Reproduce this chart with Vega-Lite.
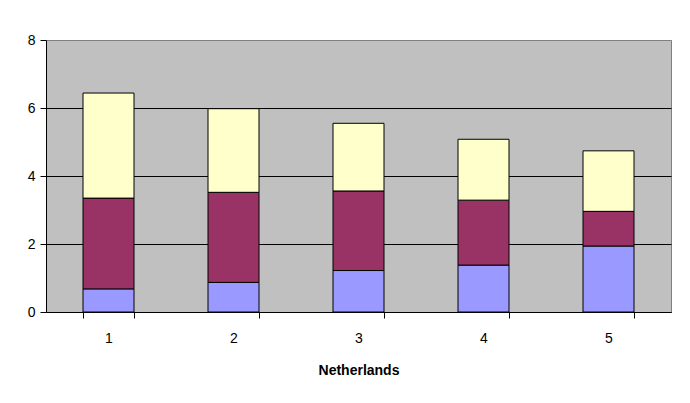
{
  "$schema": "https://vega.github.io/schema/vega-lite/v6.json",
  "width": 625,
  "height": 272,
  "autosize": {"type": "none"},
  "padding": {"left": 46, "top": 40, "right": 19, "bottom": 91},
  "background": "white",
  "config": {
    "font": "Liberation Sans",
    "view": {"fill": "#C0C0C0", "stroke": "#808080", "strokeWidth": 1},
    "axis": {"labelFont": "Liberation Sans", "titleFont": "Liberation Sans", "labelColor": "black", "titleColor": "black", "domainColor": "black", "tickColor": "black"}
  },
  "data": {
    "values": [
      {"cat": "1", "series": "A", "ord": 1, "value": 0.68},
      {"cat": "1", "series": "B", "ord": 2, "value": 2.67},
      {"cat": "1", "series": "C", "ord": 3, "value": 3.09},
      {"cat": "2", "series": "A", "ord": 1, "value": 0.87},
      {"cat": "2", "series": "B", "ord": 2, "value": 2.65},
      {"cat": "2", "series": "C", "ord": 3, "value": 2.46},
      {"cat": "3", "series": "A", "ord": 1, "value": 1.22},
      {"cat": "3", "series": "B", "ord": 2, "value": 2.34},
      {"cat": "3", "series": "C", "ord": 3, "value": 1.99},
      {"cat": "4", "series": "A", "ord": 1, "value": 1.38},
      {"cat": "4", "series": "B", "ord": 2, "value": 1.91},
      {"cat": "4", "series": "C", "ord": 3, "value": 1.79},
      {"cat": "5", "series": "A", "ord": 1, "value": 1.94},
      {"cat": "5", "series": "B", "ord": 2, "value": 1.02},
      {"cat": "5", "series": "C", "ord": 3, "value": 1.78}
    ]
  },
  "mark": {"type": "bar", "stroke": "black", "strokeWidth": 1},
  "encoding": {
    "x": {
      "field": "cat",
      "type": "nominal",
      "scale": {"paddingInner": 0.592, "paddingOuter": 0.296},
      "axis": {
        "title": "Netherlands",
        "titleFontWeight": "bold",
        "titleFontSize": 14,
        "titlePadding": 18,
        "labelAngle": 0,
        "labelFontSize": 14,
        "labelPadding": 13,
        "tickBand": "extent",
        "tickSize": 6,
        "domainColor": "black",
        "grid": false
      }
    },
    "y": {
      "field": "value",
      "type": "quantitative",
      "stack": "zero",
      "scale": {"domain": [0, 8], "nice": false},
      "axis": {
        "title": null,
        "values": [0, 2, 4, 6, 8],
        "labelFontSize": 14,
        "labelPadding": 5,
        "tickSize": 6,
        "grid": true,
        "gridColor": {"condition": {"test": "datum.value === 8", "value": "#808080"}, "value": "black"},
        "gridOpacity": 1
      }
    },
    "color": {
      "field": "series",
      "type": "nominal",
      "scale": {"domain": ["A", "B", "C"], "range": ["#9999FF", "#993366", "#FFFFCC"]},
      "legend": null
    },
    "order": {"field": "ord", "type": "quantitative"}
  }
}
